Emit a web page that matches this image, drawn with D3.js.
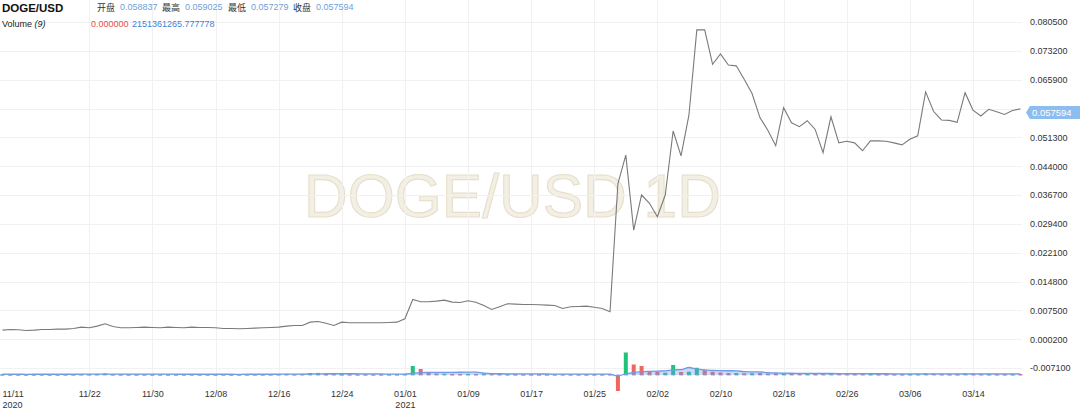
<!DOCTYPE html>
<html><head><meta charset="utf-8">
<script src="https://cdn.jsdelivr.net/npm/d3@7/dist/d3.min.js"></script>
<style>
html,body{margin:0;padding:0;background:#fff;}
svg{display:block;font-family:"Liberation Sans",Arial,Helvetica,sans-serif;}
</style></head>
<body>
<svg id="chart" width="1080" height="412"></svg>
<script>
// ---------- data ----------
const startDate = "2020-11-11";
const closeVals = [
0.00249,0.00266,0.00257,0.00240,0.00249,0.00266,0.00266,0.00274,0.00274,0.00291,
0.00325,0.00308,0.00350,0.00409,0.00342,0.00308,0.00308,0.00316,0.00325,0.00316,
0.00308,0.00325,0.00316,0.00308,0.00325,0.00316,0.00316,0.00308,0.00291,0.00291,
0.00283,0.00291,0.00299,0.00308,0.00316,0.00325,0.00350,0.00367,0.00367,0.00451,
0.00468,0.00425,0.00367,0.00451,0.00435,0.00435,0.00435,0.00435,0.00435,0.00443,
0.00451,0.00536,0.01026,0.00967,0.00967,0.00983,0.01008,0.00957,0.00950,0.00992,
0.00957,0.00874,0.00772,0.00840,0.00916,0.00908,0.00899,0.00899,0.00891,0.00881,
0.00874,0.00798,0.00840,0.00848,0.00857,0.00830,0.00798,0.00714,0.0396,0.0468,
0.0278,0.0367,0.0346,0.0312,0.0367,0.0529,0.0466,0.0569,0.0785,0.0785,
0.0698,0.0724,0.0696,0.0694,0.0660,0.0624,0.0563,0.0531,0.0492,0.0588,
0.0550,0.0540,0.0555,0.0533,0.0474,0.0565,0.0499,0.0503,0.0499,0.0479,
0.0504,0.0504,0.0503,0.0499,0.0494,0.0508,0.0517,0.0628,0.0579,0.0557,
0.0556,0.0551,0.0626,0.0582,0.0567,0.0584,0.0578,0.0571,0.0581,0.0585
];
// volume in billions (sign as drawn)
const volumeVals = [
1.6,1.4,1.5,1.3,1.5,1.6,1.4,1.5,1.6,1.7,2.0,1.8,2.2,3.2,
1.8,1.6,1.5,1.5,1.6,1.4,1.5,1.5,1.4,1.5,1.6,1.4,1.5,1.4,1.5,1.3,1.4,1.5,1.5,1.6,1.7,2.0,
2.4,2.0,2.2,4.0,4.2,
2.0,2.4,1.8,1.7,1.6,1.6,1.5,1.6,1.7,1.8,
2.2,18,12,5.5,3,2.6,2.2,2.2,2.4,2.2,3,
2.6,2.2,2.0,1.8,1.7,1.6,1.5,1.6,1.6,1.8,1.7,1.6,1.5,1.6,1.7,2.0,
-32,45,21,18,8,6,4.5,20,6,6.5,14.5,9.5,6.5,5,4,4,3.5,3.5,4,3,3.5,3.5,2.8,2.6,2.5,2.4,2.8,3.5,
2.6,2.4,2.2,2.4,2.2,2.0,2.0,1.9,1.8,2.0,2.2,3.2,2.6,2.2,2.0,
2.0,2.8,2.4,2.2,2.0,2.0,1.9,2.0,2.06
];
const upDays = [0,2,5,7,9,10,12,13,18,21,24,33,34,35,36,39,40,43,49,50,51,52,56,59,61,64,
  79,84,85,87,88,93,95,99,102,105,110,115,116,117,122,125,128];
const maPeriod = 9;
const priceTicks = [-0.0071,0.0002,0.0075,0.0148,0.0221,0.0294,0.0367,0.0440,0.0513,0.0586,0.0659,0.0732,0.0805];
const dateTicks = ["2020-11-11","2020-11-22","2020-11-30","2020-12-08","2020-12-16","2020-12-24","2021-01-01",
  "2021-01-09","2021-01-17","2021-01-25","2021-02-02","2021-02-10","2021-02-18","2021-02-26","2021-03-06","2021-03-14"];
const yearTicks = {"2020-11-11":"2020","2021-01-01":"2021"};
const symbol = "DOGE/USD";
const ohlcLabels = ["开盘","最高","最低","收盘"];
const ohlcValues = ["0.058837","0.059025","0.057279","0.057594"];
const lastClose = 0.057594;
const volLabel = "Volume";
const volParam = "(9)";
const volValues = ["0.000000","2151361265.777778"];
const watermark = "DOGE/USD 1D";

// ---------- setup ----------
const parse = d3.utcParse("%Y-%m-%d");
const t0 = parse(startDate);
const data = closeVals.map((c,i)=>({date:d3.utcDay.offset(t0,i), close:c, vol:volumeVals[i], up: upDays.includes(i)}));
data.forEach((d,i)=>{
  const s = data.slice(Math.max(0,i-maPeriod+1), i+1);
  d.ma = d3.mean(s, e=>e.vol);
});

const svg = d3.select("#chart");
const x = d3.scaleUtc().domain([data[0].date, data[data.length-1].date]).range([2.5, 1020.3]);
const y = d3.scaleLinear().domain([-0.0071, 0.0805]).range([368, 22]);
const yv = d3.scaleLinear().domain([0, 45]).range([375, 352.5]);

// watermark
svg.append("text").attr("x", 512.5).attr("y", 216.5).attr("text-anchor","middle")
  .attr("font-size", 60.5).attr("fill","#f3efe5").attr("stroke","#e6dfcc").attr("stroke-width",1.1)
  .attr("font-family","'Liberation Sans',Arial,sans-serif").text(watermark);

// grid
const grid = svg.append("g");
grid.selectAll("line.h").data(priceTicks).join("line")
  .attr("x1",0).attr("x2",1022).attr("y1",d=>Math.round(y(d))+0.5).attr("y2",d=>Math.round(y(d))+0.5)
  .attr("stroke","#f1f1f1").attr("stroke-width",1);
grid.selectAll("line.v").data(dateTicks.slice(1)).join("line")
  .attr("x1",d=>Math.round(x(parse(d)))+0.5).attr("x2",d=>Math.round(x(parse(d)))+0.5)
  .attr("y1",0).attr("y2",393).attr("stroke","#f1f1f1").attr("stroke-width",1);

// volume bars
svg.append("g").selectAll("rect").data(data).join("rect")
  .attr("x", d=>x(d.date)-2).attr("width",4)
  .attr("y", d=> d.vol>=0 ? yv(d.vol) : yv(0))
  .attr("height", d=> Math.max(1.3, Math.abs(yv(d.vol)-yv(0))))
  .attr("fill", d=> d.vol<0 ? "#f0655c" : (d.up ? "#21c27a" : "#f0655c"));

// MA area + line
const maArea = d3.area().x(d=>x(d.date)).y0(yv(0)).y1(d=>yv(d.ma)).curve(d3.curveMonotoneX);
const maLine = d3.line().x(d=>x(d.date)).y(d=>yv(d.ma)).curve(d3.curveMonotoneX);
svg.append("path").datum(data).attr("d",maArea).attr("fill","rgba(110,150,235,0.35)");
svg.append("path").datum(data).attr("d",maLine).attr("fill","none").attr("stroke","#6f9ae8").attr("stroke-width",1.3);
svg.append("line").attr("x1",0).attr("x2",1022).attr("y1",yv(0)).attr("y2",yv(0))
  .attr("stroke","#7da3ea").attr("stroke-width",1.2).attr("stroke-dasharray","4,3.9").attr("opacity",0.85);

// price line
const line = d3.line().x(d=>x(d.date)).y(d=>y(d.close));
svg.append("path").datum(data).attr("d",line).attr("fill","none").attr("stroke","#7a7a7a").attr("stroke-width",1.1);

// right axis
const ay = svg.append("g").attr("transform","translate(1027,0)")
  .call(d3.axisRight(y).tickValues(priceTicks).tickSize(0).tickPadding(3).tickFormat(d=>d.toFixed(6)));
ay.select(".domain").remove();
ay.selectAll("text").attr("font-size",9).attr("fill","#333").attr("font-family","'Liberation Sans',Arial,sans-serif");

// last price label
const ly = y(lastClose);
svg.append("path")
  .attr("d", `M1026,${ly} L1030,${ly-6.5} L1080,${ly-6.5} L1080,${ly+6.5} L1030,${ly+6.5} Z`)
  .attr("fill","#8dbcef");
svg.append("text").attr("x",1032).attr("y",ly+3.3).attr("font-size",9.5).attr("fill","#fff")
  .text(lastClose.toFixed(6));

// bottom axis
const ax = svg.append("g").attr("transform","translate(0,391)")
  .call(d3.axisBottom(x).tickValues(dateTicks.map(parse)).tickSize(0).tickPadding(0).tickFormat(d3.utcFormat("%m/%d")));
ax.select(".domain").remove();
ax.selectAll("text").attr("font-size",9).attr("fill","#333").attr("dy","0.71em")
  .attr("text-anchor",(d,i)=> i===0 ? "start" : "middle")
  .attr("x",(d,i)=> i===0 ? -0.5 : 0);
ax.selectAll(".tick").each(function(d,i){
  const k = d3.utcFormat("%Y-%m-%d")(d);
  if (yearTicks[k]) {
    d3.select(this).append("text").attr("y",17).attr("font-size",9).attr("fill","#333")
      .attr("text-anchor", i===0 ? "start" : "middle").attr("x", i===0 ? -0.5 : 0).text(yearTicks[k]);
  }
});

// header
const hdr = svg.append("g");
hdr.append("text").attr("x",2).attr("y",12).attr("font-size",11.5).attr("font-weight","bold").attr("fill","#111").text(symbol);
const labX = [97,162,228,293], valX = [120,185,251,316];
ohlcLabels.forEach((l,i)=>{
  hdr.append("text").attr("x",labX[i]).attr("y",10.5).attr("font-size",9)
    .attr("font-family","'Noto Sans CJK SC',sans-serif").attr("fill","#333").text(l);
  hdr.append("text").attr("x",valX[i]).attr("y",10).attr("font-size",9).attr("fill","#6f9fd8").text(ohlcValues[i]);
});
const vt = hdr.append("text").attr("x",2).attr("y",27).attr("font-size",9).attr("fill","#222");
vt.append("tspan").text(volLabel+" ");
vt.append("tspan").attr("font-style","italic").text(volParam);
hdr.append("text").attr("x",91).attr("y",27).attr("font-size",9).attr("fill","#e8504a").text(volValues[0]);
hdr.append("text").attr("x",132).attr("y",27).attr("font-size",9).attr("fill","#3f7fdc").text(volValues[1]);
</script>
</body></html>
